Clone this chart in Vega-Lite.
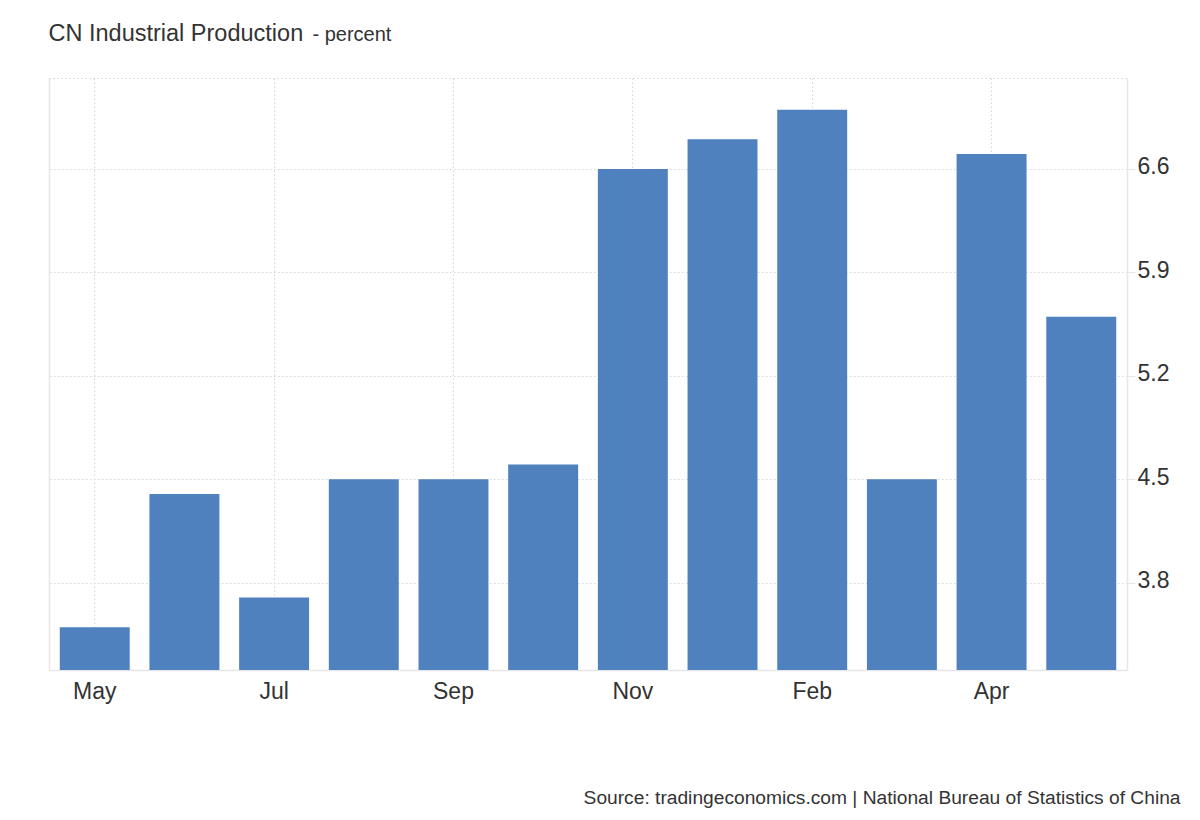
{
  "$schema": "https://vega.github.io/schema/vega-lite/v6.json",
  "width": 1078,
  "height": 592,
  "autosize": {"type": "none"},
  "padding": {"left": 49, "top": 78, "right": 73, "bottom": 150},
  "background": "white",
  "data": {
    "values": [
      {"period": "May 2023", "value": 3.5},
      {"period": "Jun 2023", "value": 4.4},
      {"period": "Jul 2023", "value": 3.7},
      {"period": "Aug 2023", "value": 4.5},
      {"period": "Sep 2023", "value": 4.5},
      {"period": "Oct 2023", "value": 4.6},
      {"period": "Nov 2023", "value": 6.6},
      {"period": "Dec 2023", "value": 6.8},
      {"period": "Feb 2024", "value": 7.0},
      {"period": "Mar 2024", "value": 4.5},
      {"period": "Apr 2024", "value": 6.7},
      {"period": "May 2024", "value": 5.6}
    ]
  },
  "layer": [
    {
      "mark": {"type": "bar", "color": "#4e81bd", "clip": true},
      "encoding": {
        "x": {
          "field": "period",
          "type": "ordinal",
          "sort": null,
          "scale": {"paddingInner": 0.22, "paddingOuter": 0.12},
          "axis": {
            "orient": "bottom",
            "values": ["May 2023", "Jul 2023", "Sep 2023", "Nov 2023", "Feb 2024", "Apr 2024"],
            "labelExpr": "split(datum.label, ' ')[0]",
            "labelAngle": 0,
            "labelFontSize": 23,
            "labelColor": "#333333",
            "labelFont": "Liberation Sans",
            "labelPadding": 10,
            "ticks": false,
            "tickSize": 0,
            "domainColor": "#e6e6e6",
            "domainWidth": 1.5,
            "grid": true,
            "gridColor": "#d6d6d6",
            "gridDash": [1.5, 2.5],
            "bandPosition": 0.5,
            "title": "Source: tradingeconomics.com | National Bureau of Statistics of China",
            "titleFontSize": 19.2,
            "titleFontWeight": "normal",
            "titleColor": "#333333",
            "titleFont": "Liberation Sans",
            "titleAlign": "right",
            "titleAnchor": "end",
            "titleBaseline": "alphabetic",
            "titleX": 1131,
            "titleY": 133
          }
        },
        "y": {
          "field": "value",
          "type": "quantitative",
          "scale": {"domain": [3.21, 7.215], "zero": false, "nice": false},
          "axis": {
            "orient": "right",
            "values": [3.8, 4.5, 5.2, 5.9, 6.6],
            "format": ".1f",
            "labelFontSize": 23,
            "labelColor": "#333333",
            "labelFont": "Liberation Sans",
            "labelPadding": 2,
            "labelOffset": -2,
            "tickSize": 8,
            "tickColor": "#e6e6e6",
            "domainColor": "#e6e6e6",
            "domainWidth": 1.5,
            "grid": true,
            "gridColor": "#d6d6d6",
            "gridDash": [1.5, 2.5],
            "title": "- percent",
            "titleAngle": 0,
            "titleAlign": "left",
            "titleBaseline": "alphabetic",
            "titleX": -815,
            "titleY": -38,
            "titleFontSize": 20,
            "titleFontWeight": "normal",
            "titleColor": "#333333",
            "titleFont": "Liberation Sans"
          }
        }
      }
    },
    {
      "mark": {"type": "bar", "opacity": 0},
      "encoding": {
        "x": {
          "field": "period",
          "type": "ordinal",
          "sort": null,
          "axis": {
            "orient": "top",
            "labels": false,
            "ticks": false,
            "grid": false,
            "domainColor": "#d6d6d6",
            "domainDash": [1.5, 2.5],
            "title": "CN Industrial Production",
            "titleFontSize": 23.5,
            "titleFontWeight": "normal",
            "titleColor": "#333333",
            "titleFont": "Liberation Sans",
            "titleAngle": 0,
            "titleAlign": "left",
            "titleBaseline": "alphabetic",
            "titleX": -1,
            "titleY": -38
          }
        },
        "y": {
          "field": "value",
          "type": "quantitative",
          "axis": {"orient": "left", "labels": false, "ticks": false, "grid": false, "domainColor": "#e6e6e6", "domainWidth": 1.5, "title": null}
        }
      }
    }
  ],
  "resolve": {"axis": {"x": "independent", "y": "independent"}},
  "config": {"view": {"stroke": null}}
}
